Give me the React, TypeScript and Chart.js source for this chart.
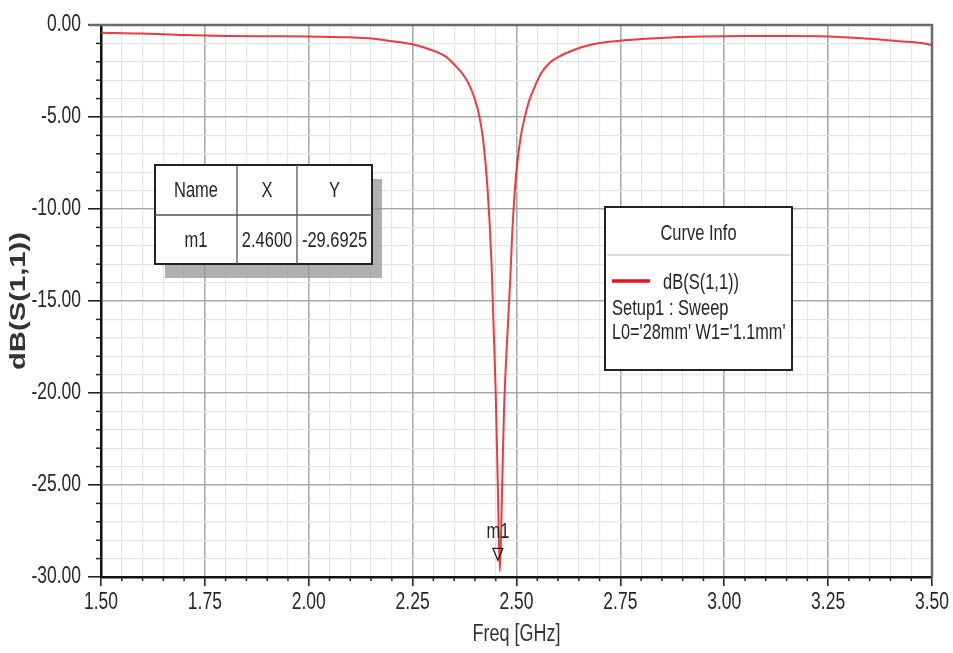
import React, { useEffect, useRef } from "react";
import { Chart, registerables } from "chart.js";

Chart.register(...registerables);

// ---- data ----
const freqGHz = [
  1.5, 1.6, 1.7, 1.8, 1.9, 2.0, 2.1, 2.15, 2.2, 2.25,
  2.29, 2.33, 2.35, 2.37, 2.385, 2.4, 2.41, 2.42, 2.43, 2.44,
  2.445, 2.45, 2.455, 2.46, 2.465, 2.47, 2.475, 2.48, 2.485, 2.49,
  2.495, 2.5, 2.51, 2.52, 2.53, 2.545, 2.56, 2.58, 2.6, 2.62,
  2.66, 2.7, 2.76, 2.85, 2.95, 3.05, 3.15, 3.25, 3.35, 3.42,
  3.47, 3.5,
];
const s11dB = [
  -0.42, -0.46, -0.55, -0.6, -0.61, -0.62, -0.67, -0.73, -0.88, -1.05,
  -1.32, -1.72, -2.15, -2.65, -3.2, -4.05, -4.9, -6.3, -8.8, -13.0,
  -16.5, -20.0, -25.0, -29.6925, -25.5, -20.9, -18.2, -16.0, -13.8, -11.2,
  -9.3, -7.9, -6.1, -5.0, -4.15, -3.3, -2.6, -2.05, -1.75, -1.52,
  -1.18, -0.98, -0.83, -0.7, -0.63, -0.6, -0.6, -0.62, -0.75, -0.88,
  -0.97, -1.08,
];

const markerNames = ["m1"];
const markerFreq = [2.46];
const markerDb = [-29.6925];

const xMin = 1.5;
const xMax = 3.5;
const xMinorStep = 0.05;
const xMajorStep = 0.25;
const yMin = -30;
const yMax = 0;
const yMinorStep = 1;
const yMajorStep = 5;

const xTitle = "Freq [GHz]";
const yTitle = "dB(S(1,1))";
const tableHeaders = ["Name", "X", "Y"];
const curveInfoTitle = "Curve Info";
const curveInfoLines = ["dB(S(1,1))", "Setup1 : Sweep", "L0='28mm' W1='1.1mm'"];

const SANS = "'Liberation Sans', Arial, sans-serif";
const LINE_RED = "rgba(236, 38, 42, 0.9)";
const TEXT = "#262626";
const SY = 1.33; // vertical stretch of the lettering

const isMajor = (v: number, step: number) => Math.abs(v / step - Math.round(v / step)) < 1e-6;

function stretchText(
  ctx: CanvasRenderingContext2D,
  text: string,
  x: number,
  y: number,
  align: CanvasTextAlign,
  size: number,
  weight = "normal",
  rotate = 0,
) {
  ctx.save();
  ctx.translate(x, y);
  if (rotate) ctx.rotate(rotate);
  ctx.scale(rotate ? SY : 1, rotate ? 1 : SY);
  ctx.font = `${weight} ${size}px ${SANS}`;
  ctx.textAlign = align;
  ctx.textBaseline = "middle";
  ctx.fillText(text, 0, 0);
  ctx.restore();
}

const overlayPlugin = {
  id: "hfssOverlay",
  afterDraw(chart: any) {
    const ctx: CanvasRenderingContext2D = chart.ctx;
    const { left, right, top, bottom } = chart.chartArea;
    const xs = chart.scales.x;
    const ys = chart.scales.y;
    ctx.save();

    // minor tick marks
    ctx.strokeStyle = "#222";
    ctx.lineWidth = 1.5;
    ys.ticks.forEach((t: any) => {
      if (!isMajor(t.value, yMajorStep)) {
        const py = ys.getPixelForValue(t.value);
        ctx.beginPath();
        ctx.moveTo(left - 5, py);
        ctx.lineTo(left, py);
        ctx.stroke();
      }
    });
    xs.ticks.forEach((t: any) => {
      if (!isMajor(t.value, xMajorStep)) {
        const px = xs.getPixelForValue(t.value);
        ctx.beginPath();
        ctx.moveTo(px, bottom);
        ctx.lineTo(px, bottom + 4);
        ctx.stroke();
      }
    });

    // top and right frame
    ctx.strokeStyle = "#6a6a6a";
    ctx.lineWidth = 2.5;
    ctx.beginPath();
    ctx.moveTo(left - 12, top);
    ctx.lineTo(right, top);
    ctx.lineTo(right, bottom);
    ctx.stroke();

    // tick labels (from the scales' own ticks)
    ctx.fillStyle = TEXT;
    ys.ticks.forEach((t: any) => {
      if (t.label) stretchText(ctx, String(t.label), left - 20, ys.getPixelForValue(t.value), "right", 17.5);
    });
    xs.ticks.forEach((t: any) => {
      if (t.label) stretchText(ctx, String(t.label), xs.getPixelForValue(t.value), bottom + 26, "center", 17.5);
    });

    // axis titles
    ctx.fillStyle = "#333";
    stretchText(ctx, xTitle, (left + right) / 2, bottom + 57, "center", 18);
    stretchText(ctx, yTitle, 19, (top + bottom) / 2, "center", 22, "bold", -Math.PI / 2);

    // marker
    markerNames.forEach((name, i) => {
      const px = xs.getPixelForValue(markerFreq[i]);
      const py = ys.getPixelForValue(markerDb[i]);
      ctx.strokeStyle = "#222";
      ctx.lineWidth = 1.3;
      ctx.beginPath();
      ctx.moveTo(px - 7, py - 23);
      ctx.lineTo(px + 3, py - 23);
      ctx.lineTo(px - 2, py - 11);
      ctx.closePath();
      ctx.stroke();
      ctx.fillStyle = TEXT;
      stretchText(ctx, name, px - 2, py - 39, "center", 16.5);
    });

    // marker table
    const tx = 155, ty = 165, tw = 217, th = 99;
    const colX = [155, 237, 297, 372];
    const rowY = [165, 215, 264];
    ctx.fillStyle = "rgba(150,150,150,0.75)";
    ctx.fillRect(tx + 10, ty + 14, tw, th);
    ctx.fillStyle = "#fff";
    ctx.fillRect(tx, ty, tw, th);
    ctx.strokeStyle = "#222";
    ctx.lineWidth = 2;
    ctx.strokeRect(tx, ty, tw, th);
    ctx.lineWidth = 1.3;
    ctx.strokeStyle = "#555";
    ctx.beginPath();
    ctx.moveTo(colX[1], ty); ctx.lineTo(colX[1], ty + th);
    ctx.moveTo(colX[2], ty); ctx.lineTo(colX[2], ty + th);
    ctx.moveTo(tx, rowY[1]); ctx.lineTo(tx + tw, rowY[1]);
    ctx.stroke();
    ctx.fillStyle = TEXT;
    tableHeaders.forEach((h, c) => {
      stretchText(ctx, h, (colX[c] + colX[c + 1]) / 2, (rowY[0] + rowY[1]) / 2 + 1, "center", 16.5);
    });
    markerNames.forEach((name, i) => {
      const vals = [name, markerFreq[i].toFixed(4), markerDb[i].toFixed(4)];
      vals.forEach((v, c) => {
        stretchText(ctx, v, (colX[c] + colX[c + 1]) / 2, (rowY[1] + rowY[2]) / 2 + 1, "center", 16.5);
      });
    });

    // curve info box
    const bx = 605, by = 207, bw = 187, bh = 163;
    ctx.fillStyle = "#fff";
    ctx.fillRect(bx, by, bw, bh);
    ctx.strokeStyle = "#222";
    ctx.lineWidth = 2;
    ctx.strokeRect(bx, by, bw, bh);
    ctx.strokeStyle = "#bbb";
    ctx.lineWidth = 1;
    ctx.beginPath();
    ctx.moveTo(bx + 2, by + 48);
    ctx.lineTo(bx + bw - 2, by + 48);
    ctx.stroke();
    ctx.fillStyle = TEXT;
    stretchText(ctx, curveInfoTitle, bx + bw / 2, by + 27, "center", 16.5);
    ctx.strokeStyle = "#e8141c";
    ctx.lineWidth = 3.5;
    ctx.beginPath();
    ctx.moveTo(bx + 7, by + 74);
    ctx.lineTo(bx + 45, by + 74);
    ctx.stroke();
    ctx.fillStyle = TEXT;
    stretchText(ctx, curveInfoLines[0], bx + 58, by + 76, "left", 16.5);
    stretchText(ctx, curveInfoLines[1], bx + 7, by + 102, "left", 16.5);
    stretchText(ctx, curveInfoLines[2], bx + 7, by + 126, "left", 16.3);

    ctx.restore();
  },
};

export default function App() {
  const canvasRef = useRef<HTMLCanvasElement | null>(null);

  useEffect(() => {
    document.body.style.margin = "0";
    const canvas = canvasRef.current;
    if (!canvas) return;
    const chart = new Chart(canvas, {
      type: "line",
      data: {
        datasets: [
          {
            label: "dB(S(1,1))",
            data: freqGHz.map((f, i) => ({ x: f, y: s11dB[i] })),
            borderColor: LINE_RED,
            borderWidth: 2,
            pointRadius: 0,
            fill: false,
            cubicInterpolationMode: "monotone",
          },
        ],
      },
      options: {
        animation: false,
        responsive: false,
        maintainAspectRatio: false,
        layout: { padding: { left: 4, top: 25, right: 21, bottom: 9 } },
        plugins: {
          legend: { display: false },
          tooltip: { enabled: false },
        },
        scales: {
          x: {
            type: "linear",
            min: xMin,
            max: xMax,
            ticks: {
              display: false,
              stepSize: xMinorStep,
              autoSkip: false,
              maxRotation: 0,
              callback: (v: any) => (isMajor(Number(v), xMajorStep) ? Number(v).toFixed(2) : ""),
            },
            grid: {
              color: (c: any) => (isMajor(c.tick.value, xMajorStep) ? "#a9a9a9" : "#e5e5e5"),
              lineWidth: (c: any) => (isMajor(c.tick.value, xMajorStep) ? 1.6 : 1.2),
              tickColor: (c: any) => (isMajor(c.tick.value, xMajorStep) ? "#222" : "rgba(0,0,0,0)"),
              tickLength: 9,
              drawTicks: true,
            },
            border: { color: "#111", width: 2.5 },
            title: { display: false, text: xTitle },
            afterFit: (s: any) => {
              s.height = 67;
            },
          },
          y: {
            type: "linear",
            min: yMin,
            max: yMax,
            ticks: {
              display: false,
              stepSize: yMinorStep,
              autoSkip: false,
              callback: (v: any) =>
                isMajor(Number(v), yMajorStep) ? (Math.abs(Number(v)) < 1e-9 ? "0.00" : Number(v).toFixed(2)) : "",
            },
            grid: {
              color: (c: any) => (isMajor(c.tick.value, yMajorStep) ? "#a9a9a9" : "#e5e5e5"),
              lineWidth: (c: any) => (isMajor(c.tick.value, yMajorStep) ? 1.6 : 1.2),
              tickColor: (c: any) => (isMajor(c.tick.value, yMajorStep) ? "#222" : "rgba(0,0,0,0)"),
              tickLength: 13,
              drawTicks: true,
            },
            border: { color: "#111", width: 2.5 },
            title: { display: false, text: yTitle },
            afterFit: (s: any) => {
              s.width = 97;
            },
          },
        },
      },
      plugins: [overlayPlugin],
    });
    return () => chart.destroy();
  }, []);

  return (
    <div style={{ position: "fixed", left: 0, top: 0, width: 953, height: 653, background: "#fff" }}>
      <canvas ref={canvasRef} width={953} height={653} style={{ width: 953, height: 653, display: "block" }} />
    </div>
  );
}
